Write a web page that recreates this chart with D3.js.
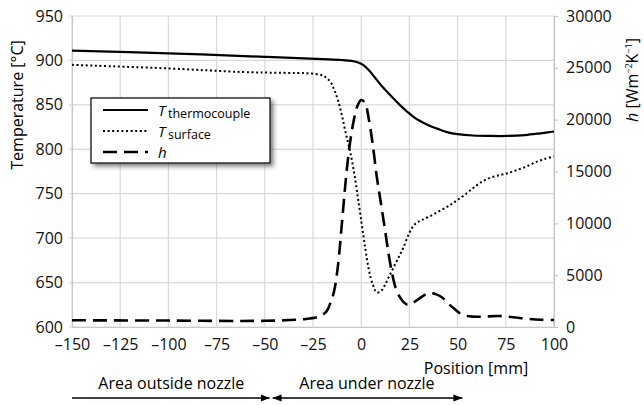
<!DOCTYPE html>
<html>
<head>
<style>
body { margin: 0; background: #fff; font-family: "Open Sans", sans-serif; }
</style>
</head>
<body>
<script src="https://d3js.org/d3.v7.min.js"></script>
<script>
var width = 644, height = 405;
var margin = {top: 16, right: 90, bottom: 78, left: 72};

// thermocouple temperature [°C]
var posThermo = [-150, -100, -50, -20, -10, -5, -2, 1, 4, 7, 10, 15, 20, 24, 28, 32.5, 37, 41, 45, 50, 58, 67, 76, 85, 93, 100];
var tThermo = [911, 908, 904, 901.5, 900.5, 899.5, 898, 895, 889, 881, 873, 861, 850, 842, 835, 829.5, 825, 822, 819, 817, 815.5, 815, 815, 816, 818, 820];

// surface temperature [°C]
var posSurface = [-150, -100, -62, -40, -28, -20, -16, -14, -12, -10, -8, -6, -4, -2, 0, 2, 4, 6, 8, 10, 12, 14, 17, 20, 22, 25, 28, 31, 36, 41, 46, 50, 55, 59, 63, 67, 72, 76, 80, 85, 90, 95, 100];
var tSurface = [895, 891, 887, 886, 885.5, 883, 876, 867, 855, 838, 818, 800, 778, 750, 720, 690, 664, 648, 639, 640, 646, 655, 668, 681, 690, 706, 716, 720, 725, 731, 737, 743, 751, 758, 764, 768, 771, 773, 776, 780, 785, 789, 792];

// heat transfer coefficient [W m^-2 K^-1]
var posH = [-150, -100, -50, -30, -22, -18, -16, -14, -12, -10, -8, -6, -4, -2, 0, 2, 4, 6, 8, 10, 12, 14, 16, 18, 20, 22, 24, 26, 29, 33, 36, 39, 42, 45, 48, 51, 54, 58, 62, 72, 83, 93, 100];
var hCoef = [650, 620, 600, 750, 1000, 1500, 2300, 3500, 6000, 10000, 14200, 17500, 19800, 21300, 21900, 21600, 20000, 17600, 14600, 12200, 9800, 7300, 5200, 3700, 2900, 2400, 2150, 2250, 2600, 3100, 3280, 3150, 2850, 2300, 1800, 1350, 1100, 1000, 990, 1060, 850, 700, 680];

var xTicks = [-150, -125, -100, -75, -50, -25, 0, 25, 50, 75, 100];
var tTicks = [600, 650, 700, 750, 800, 850, 900, 950];
var hTicks = [0, 5000, 10000, 15000, 20000, 25000, 30000];

var zones = [
  {label: "Area outside nozzle", from: -150, to: -47},
  {label: "Area under nozzle", from: -47, to: 53}
];

var svg = d3.select("body").append("svg")
    .attr("width", width)
    .attr("height", height);

var defs = svg.append("defs");
defs.append("filter").attr("id", "shadow")
    .attr("x", "-10%").attr("y", "-10%").attr("width", "130%").attr("height", "150%")
  .append("feDropShadow")
    .attr("dx", 3).attr("dy", 3).attr("stdDeviation", 2)
    .attr("flood-color", "#333").attr("flood-opacity", 0.6);
defs.append("marker").attr("id", "head")
    .attr("viewBox", "0 0 10 10").attr("refX", 10).attr("refY", 5)
    .attr("markerWidth", 9).attr("markerHeight", 9)
    .attr("markerUnits", "userSpaceOnUse")
    .attr("orient", "auto-start-reverse")
  .append("path").attr("d", "M0,1L10,5L0,9Z").attr("fill", "#000");

var x = d3.scaleLinear().domain([-150, 100]).range([margin.left, width - margin.right]);
var yT = d3.scaleLinear().domain([600, 950]).range([height - margin.bottom, margin.top]);
var yH = d3.scaleLinear().domain([0, 30000]).range([height - margin.bottom, margin.top]);

var grid = "#d9d9d9";

// grid
svg.append("g").selectAll("line").data(xTicks).enter().append("line")
    .attr("x1", d => x(d)).attr("x2", d => x(d))
    .attr("y1", yT(950)).attr("y2", yT(600))
    .attr("stroke", grid).attr("stroke-width", 1.2);
svg.append("g").selectAll("line").data(tTicks).enter().append("line")
    .attr("x1", x(-150) - 3).attr("x2", x(100))
    .attr("y1", d => yT(d)).attr("y2", d => yT(d))
    .attr("stroke", grid).attr("stroke-width", 1.2);

// axes
var fontSize = "16px";
var axL = svg.append("g").attr("transform", "translate(" + x(-150) + ",0)")
    .call(d3.axisLeft(yT).tickValues(tTicks).tickSize(0).tickPadding(9));
var axB = svg.append("g").attr("transform", "translate(0," + yT(600) + ")")
    .call(d3.axisBottom(x).tickValues(xTicks).tickSize(0).tickPadding(12)
      .tickFormat(d => d < 0 ? "\u2013" + Math.abs(d) : d));
var axR = svg.append("g").attr("transform", "translate(" + x(100) + ",0)")
    .call(d3.axisRight(yH).tickValues(hTicks).tickSize(4).tickPadding(8)
      .tickFormat(d3.format("d")));
[axL, axB, axR].forEach(function(g) {
  g.selectAll(".domain").attr("stroke", "#c8c8c8").attr("stroke-width", 1.2);
  g.selectAll(".tick line").attr("stroke", "#c8c8c8").attr("stroke-width", 1.2);
  g.selectAll("text").attr("font-family", "'Open Sans', sans-serif")
    .attr("font-size", fontSize).attr("fill", "#111");
});

// axis titles
svg.append("text")
    .attr("transform", "translate(23,105) rotate(-90)")
    .attr("text-anchor", "middle")
    .attr("font-size", fontSize)
    .text("Temperature [\u00b0C]");

var hLabel = svg.append("text")
    .attr("transform", "translate(638,80) rotate(-90)")
    .attr("text-anchor", "middle")
    .attr("font-size", fontSize);
hLabel.append("tspan").attr("font-style", "italic").text("h");
hLabel.append("tspan").text(" [Wm");
hLabel.append("tspan").attr("font-size", "9px").attr("dy", -6).text("\u22122");
hLabel.append("tspan").attr("dy", 6).text("K");
hLabel.append("tspan").attr("font-size", "9px").attr("dy", -6).text("\u22121");
hLabel.append("tspan").attr("dy", 6).text("]");

svg.append("text")
    .attr("x", 476).attr("y", 374)
    .attr("text-anchor", "middle")
    .attr("font-size", fontSize)
    .text("Position [mm]");

// lines
var curve = d3.curveCatmullRom.alpha(0.5);
var lineT = d3.line().curve(curve).x(d => x(d[0])).y(d => yT(d[1]));
var lineH = d3.line().curve(curve).x(d => x(d[0])).y(d => yH(d[1]));

svg.append("path")
    .attr("d", lineH(d3.zip(posH, hCoef)))
    .attr("fill", "none").attr("stroke", "#000")
    .attr("stroke-width", 2.6).attr("stroke-dasharray", "14,7");
svg.append("path")
    .attr("d", lineT(d3.zip(posSurface, tSurface)))
    .attr("fill", "none").attr("stroke", "#000")
    .attr("stroke-width", 2).attr("stroke-dasharray", "2,2.6");
svg.append("path")
    .attr("d", lineT(d3.zip(posThermo, tThermo)))
    .attr("fill", "none").attr("stroke", "#000")
    .attr("stroke-width", 2.2);

// legend
var legend = svg.append("g").attr("transform", "translate(91,98)");
legend.append("rect")
    .attr("width", 179).attr("height", 65)
    .attr("fill", "#fff").attr("stroke", "#000").attr("stroke-width", 1.2)
    .attr("filter", "url(#shadow)");
var items = [
  {sym: "T", sub: "thermocouple", dash: null, w: 2.2},
  {sym: "T", sub: "surface", dash: "2,2.6", w: 2},
  {sym: "h", sub: null, dash: "14,7", w: 2.6}
];
items.forEach(function(it, i) {
  var yy = 12 + i * 21;
  legend.append("line")
      .attr("x1", 12).attr("x2", 57).attr("y1", yy).attr("y2", yy)
      .attr("stroke", "#000").attr("stroke-width", it.w)
      .attr("stroke-dasharray", it.dash);
  legend.append("text").attr("x", 67).attr("y", yy + 6)
      .attr("font-size", "15px").attr("font-style", "italic")
      .text(it.sym);
  if (it.sub) {
    legend.append("text").attr("x", 77).attr("y", yy + 8)
        .attr("font-size", "12.5px")
        .text(it.sub);
  }
});

// zone annotations
var zone = svg.append("g");
zone.selectAll("line").data(zones).enter().append("line")
    .attr("x1", d => x(d.from) + (d.from > -150 ? 2 : 0)).attr("x2", d => x(d.to) - 1)
    .attr("y1", 398).attr("y2", 398)
    .attr("stroke", "#000").attr("stroke-width", 1.5)
    .attr("marker-end", "url(#head)")
    .attr("marker-start", d => d.from > -150 ? "url(#head)" : null);
zone.selectAll("text").data(zones).enter().append("text")
    .attr("x", d => (x(d.from) + x(d.to)) / 2)
    .attr("y", 389)
    .attr("text-anchor", "middle")
    .attr("font-size", fontSize)
    .text(d => d.label);
</script>
</body>
</html>
